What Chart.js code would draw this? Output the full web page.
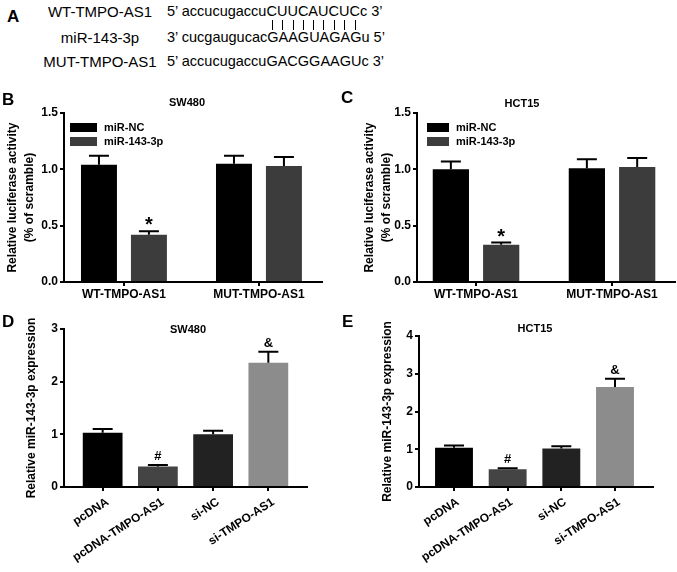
<!DOCTYPE html>
<html>
<head>
<meta charset="utf-8">
<script src="https://cdn.jsdelivr.net/npm/chart.js@4.4.1/dist/chart.umd.min.js"></script>
<style>
  html, body { margin: 0; padding: 0; background: #fff; }
  body { width: 677px; height: 572px; position: relative; overflow: hidden; font-family: "Liberation Sans", Arial, sans-serif; color: #000; }
  canvas { position: absolute; }
  .lbl { position: absolute; font-weight: bold; font-size: 17px; line-height: 17px; z-index: 2; }
  .row { position: absolute; left: 167px; font-size: 14.5px; line-height: 15px; white-space: nowrap; }
  .name { position: absolute; left: 30px; width: 140px; text-align: center; font-size: 15px; line-height: 15px; white-space: nowrap; }
  .p { position: relative; }
  .p::after { content: ''; position: absolute; left: 50%; top: 17px; height: 10px; border-left: 1px solid #000; }
</style>
</head>
<body>
<!-- [ panel A ] sequences -->
<div class="lbl" style="left:7px;top:8px">A</div>
<div class="name" style="top:4px">WT-TMPO-AS1</div>
<div class="row" style="top:4px">5’ accucugaccu<span class="p">C</span><span class="p">U</span><span class="p">U</span><span class="p">C</span><span class="p">A</span><span class="p">U</span><span class="p">C</span><span class="p">U</span><span class="p">C</span>c 3’</div>
<div class="name" style="top:30px">miR-143-3p</div>
<div class="row" style="top:30px">3’ cucgaugucacGAAGUAGAGu 5’</div>
<div class="name" style="top:54px">MUT-TMPO-AS1</div>
<div class="row" style="top:54px">5’ accucugaccuGACGGAAGUc 3’</div>

<div class="lbl" style="left:2px;top:91px">B</div>
<div class="lbl" style="left:341px;top:89px">C</div>
<div class="lbl" style="left:2px;top:313px">D</div>
<div class="lbl" style="left:342px;top:313px">E</div>

<canvas id="chartB" width="340" height="210" style="left:0;top:90px"></canvas>
<canvas id="chartC" width="337" height="210" style="left:340px;top:90px"></canvas>
<canvas id="chartD" width="340" height="267" style="left:0;top:305px"></canvas>
<canvas id="chartE" width="337" height="267" style="left:340px;top:305px"></canvas>

<script>
'use strict';
// [ data ] luciferase (B, C)
const luc_cats = ['WT-TMPO-AS1', 'MUT-TMPO-AS1'];
const luc_series = ['miR-NC', 'miR-143-3p'];
const sw_nc = [1.04, 1.05];
const sw_nc_sem = [0.08, 0.07];
const sw_mir = [0.42, 1.03];
const sw_mir_sem = [0.03, 0.08];
const hct_nc = [1.00, 1.01];
const hct_nc_sem = [0.07, 0.08];
const hct_mir = [0.33, 1.02];
const hct_mir_sem = [0.02, 0.08];
const luc_marks = ['*', ''];

// [ data ] miR-143-3p expression (D, E)
const expr_cats = ['pcDNA', 'pcDNA-TMPO-AS1', 'si-NC', 'si-TMPO-AS1'];
const sw_expr = [1.03, 0.39, 1.00, 2.36];
const sw_expr_sem = [0.07, 0.03, 0.07, 0.21];
const hct_expr = [1.04, 0.47, 1.02, 2.65];
const hct_expr_sem = [0.06, 0.03, 0.06, 0.22];
const expr_marks = ['', '#', '', '&'];

const FONT = '"Liberation Sans", Arial, sans-serif';
Chart.defaults.font.family = FONT;
Chart.defaults.color = '#000';

// error bars, marks, panel title and legend
var figMarks = {
    id: 'figMarks',
    afterDatasetsDraw: function(chart, args, o) {
        var ctx = chart.ctx;
        var ys = chart.scales.y;
        ctx.save();
        ctx.strokeStyle = '#000';
        ctx.fillStyle = '#000';
        ctx.lineWidth = 2;
        chart.data.datasets.forEach(function(ds, di) {
            chart.getDatasetMeta(di).data.forEach(function(bar, i) {
                var top = ys.getPixelForValue(ds.data[i] + ds.sem[i]);
                ctx.beginPath();
                ctx.moveTo(bar.x, bar.y);
                ctx.lineTo(bar.x, top);
                ctx.moveTo(bar.x - o.cap / 2, top);
                ctx.lineTo(bar.x + o.cap / 2, top);
                ctx.stroke();
                var m = ds.marks && ds.marks[i];
                if (m) {
                    ctx.font = 'bold ' + (m === '*' ? 20 : 13) + 'px ' + FONT;
                    ctx.textAlign = 'center';
                    ctx.textBaseline = 'alphabetic';
                    ctx.fillText(m, bar.x, top - (m === '*' ? 0 : 5));
                }
            });
        });
        ctx.font = 'bold 11px ' + FONT;
        ctx.textAlign = 'center';
        ctx.textBaseline = 'alphabetic';
        ctx.fillText(o.title, o.titleX, o.titleY);
        if (o.legend) {
            var lg = o.legend;
            ctx.textAlign = 'left';
            ctx.textBaseline = 'middle';
            chart.data.datasets.forEach(function(ds, di) {
                var y = lg.y + di * lg.step;
                ctx.fillStyle = ds.backgroundColor;
                ctx.fillRect(lg.x, y, lg.w, lg.h);
                ctx.fillStyle = '#000';
                ctx.fillText(ds.label, lg.x + lg.w + 7, y + lg.h / 2 + 0.5);
            });
        }
        ctx.restore();
    }
};

function yAxis(max, digits, title, width) {
    return {
        min: 0, max: max,
        ticks: { stepSize: digits ? 0.5 : 1, callback: function(v) { return v.toFixed(digits); }, font: { size: 12, weight: 'bold' }, color: '#000', padding: 2 },
        grid: { drawOnChartArea: false, tickLength: 4, color: '#000', lineWidth: 2 },
        border: { color: '#000', width: 2 },
        title: { display: true, text: title, font: { size: 12, weight: 'bold', lineHeight: 1.4 }, color: '#000', padding: 0 },
        afterFit: function(s) { s.width = width; }
    };
}

function xAxis(cats, min, max, rot, height, shift) {
    return {
        type: 'linear', min: min, max: max, offset: false,
        afterBuildTicks: function(s) { s.ticks = cats.map(function(c, i) { return { value: i }; }); },
        ticks: { callback: function(v) { return cats[v]; }, autoSkip: false, minRotation: rot, maxRotation: rot, font: { size: 12, weight: 'bold' }, color: '#000', padding: rot ? 4 : 1, labelOffset: shift },
        grid: { offset: false, drawOnChartArea: false, tickLength: 4, color: '#000', lineWidth: 2 },
        border: { color: '#000', width: 2 },
        afterFit: function(s) { s.height = height; }
    };
}

function panel(id, datasets, labels, x, y, pad, marks) {
    return new Chart(document.getElementById(id), {
        type: 'bar',
        data: { labels: labels, datasets: datasets },
        options: {
            responsive: false, animation: false, devicePixelRatio: 1,
            layout: { padding: pad },
            plugins: { legend: { display: false }, title: { display: false }, tooltip: { enabled: false }, figMarks: marks },
            scales: { x: x, y: y }
        },
        plugins: [figMarks]
    });
}

var lucIdx = luc_cats.map(function(c, i) { return i; });
var exprIdx = expr_cats.map(function(c, i) { return i; });
var lucTitle = ['Relative luciferase activity', '(% of scramble)'];
var exprTitle = 'Relative miR-143-3p expression';
var exprColors = ['#000000', '#444444', '#222222', '#8c8c8c'];

// [ chart B ] SW480 luciferase
panel('chartB', [
    { label: luc_series[0], data: sw_nc, sem: sw_nc_sem, backgroundColor: '#000000', categoryPercentage: 0.74, barPercentage: 0.72 },
    { label: luc_series[1], data: sw_mir, sem: sw_mir_sem, marks: luc_marks, backgroundColor: '#3c3c3c', categoryPercentage: 0.74, barPercentage: 0.72 }
], lucIdx, xAxis(luc_cats, -0.444, 1.467, 0, 18, 0), yAxis(1.5, 1, lucTitle, 60),
    { left: 4, right: 18, top: 23, bottom: 0 },
    { cap: 20, title: 'SW480', titleX: 187, titleY: 16, legend: { x: 70, y: 33, w: 27, h: 9, step: 14 } });

// [ chart C ] HCT15 luciferase
panel('chartC', [
    { label: luc_series[0], data: hct_nc, sem: hct_nc_sem, backgroundColor: '#000000', categoryPercentage: 0.74, barPercentage: 0.72 },
    { label: luc_series[1], data: hct_mir, sem: hct_mir_sem, marks: luc_marks, backgroundColor: '#3c3c3c', categoryPercentage: 0.74, barPercentage: 0.72 }
], lucIdx, xAxis(luc_cats, -0.434, 1.463, 0, 18, 0), yAxis(1.5, 1, lucTitle, 56),
    { left: 21, right: 2, top: 23, bottom: 0 },
    { cap: 20, title: 'HCT15', titleX: 182, titleY: 17, legend: { x: 87, y: 33, w: 22, h: 9, step: 14 } });

// [ chart D ] SW480 expression
panel('chartD', [
    { label: 'SW480', data: sw_expr, sem: sw_expr_sem, marks: expr_marks, backgroundColor: exprColors, categoryPercentage: 1, barPercentage: 0.72 }
], exprIdx, xAxis(expr_cats, -0.7, 3.7, 33, 85, 5), yAxis(3, 0, exprTitle, 41),
    { left: 23, right: 33, top: 24, bottom: 0 },
    { cap: 20, title: 'SW480', titleX: 188, titleY: 28 });

// [ chart E ] HCT15 expression
panel('chartE', [
    { label: 'HCT15', data: hct_expr, sem: hct_expr_sem, marks: expr_marks, backgroundColor: exprColors, categoryPercentage: 1, barPercentage: 0.706 }
], exprIdx, xAxis(expr_cats, -0.652, 3.708, 33, 85, 4), yAxis(4, 0, exprTitle, 40),
    { left: 39, right: 24, top: 31, bottom: 0 },
    { cap: 20, title: 'HCT15', titleX: 195, titleY: 27 });
</script>
</body>
</html>
